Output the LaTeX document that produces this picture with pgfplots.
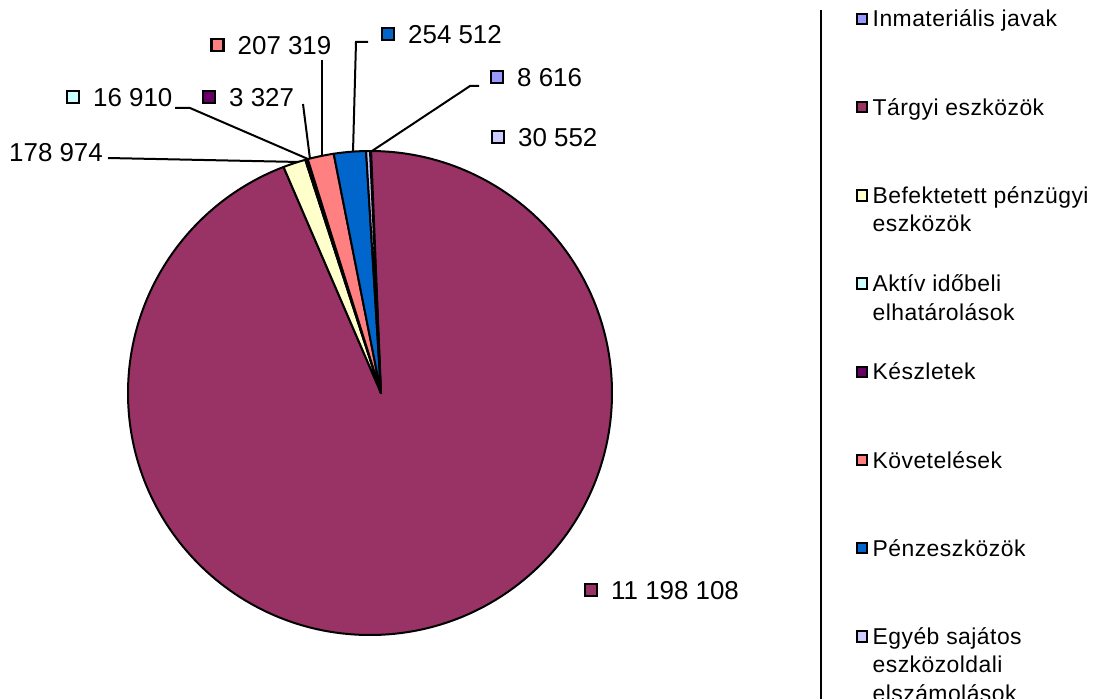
\documentclass[border=0pt]{standalone}
\usepackage{pgfplots}
\usepackage{pgfplotstable}
\pgfplotsset{compat=1.18}
\usepackage{fontspec}
\setmainfont{Liberation Sans}
\newfontfamily\legfont[LetterSpace=2]{Liberation Sans}

\definecolor{s0}{HTML}{9999FF}
\definecolor{s1}{HTML}{993366}
\definecolor{s2}{HTML}{FFFFCC}
\definecolor{s3}{HTML}{CCFFFF}
\definecolor{s4}{HTML}{660066}
\definecolor{s5}{HTML}{FF8080}
\definecolor{s6}{HTML}{0066CC}
\definecolor{s7}{HTML}{CCCCFF}

% values in thousands; lx,ly = label square position (px), gy = legend row (px)
\pgfplotstableread{
idx value     lx    ly  sq gy
0   8.616     497   77  1  19
1   11198.108 591   590 1  107.2
2   178.974   -11   152 0  195.4
3   16.910    73    97  1  283.6
4   3.327     209   97  1  371.8
5   207.319   217.5 45  1  460
6   254.512   388   34  1  548.2
7   30.552    498   137 1  636.4
}\piedata

\pgfplotstablecreatecol[create col/expr accum={\pgfmathaccuma+\thisrow{value}}{0}]{cum}\piedata
\pgfplotstablegetelem{7}{cum}\of\piedata
\edef\pietotal{\pgfplotsretval}
\pgfplotstablecreatecol[create col/expr={90-(\thisrow{cum}-\thisrow{value})/\pietotal*360}]{sa}\piedata
\pgfplotstablecreatecol[create col/expr={90-\thisrow{cum}/\pietotal*360}]{ea}\piedata

\newcommand\legline[2]{\node[anchor=base west, inner sep=0pt, text=black, font=\legfont\fontsize{23}{28}\selectfont] at (10.5bp,{-8bp-#1*28.5bp}) {#2};}
\newcommand\legentry[1]{\ifcase#1\relax
 \legline{0}{Inmateriális javak}\or
 \legline{0}{Tárgyi eszközök}\or
 \legline{0}{Befektetett pénzügyi}\legline{1}{eszközök}\or
 \legline{0}{Aktív időbeli}\legline{1}{elhatárolások}\or
 \legline{0}{Készletek}\or
 \legline{0}{Követelések}\or
 \legline{0}{Pénzeszközök}\or
 \legline{0}{Egyéb sajátos}\legline{1}{eszközoldali}\legline{2}{elszámolások}\fi}

\begin{document}
\begin{tikzpicture}
\begin{axis}[
  hide axis, scale only axis, width=1104bp, height=699bp,
  xmin=0, xmax=1104, ymin=0, ymax=699, y dir=reverse,
  clip=false,
]
% pie slices
\addplot[scatter, only marks, mark=text, text mark={},
  visualization depends on={\thisrow{idx} \as \pieCIraw},
  visualization depends on={\thisrow{sa} \as \pieSA},
  visualization depends on={\thisrow{ea} \as \pieEA},
  scatter/@pre marker code/.code={%
    \pgfmathtruncatemacro\pieCI{\pieCIraw}%
    \fill[s\pieCI, draw=black, line width=2bp, line join=round] (0,0) -- (\pieSA:242bp) arc[start angle=\pieSA, end angle=\pieEA, radius=242bp] -- cycle;
  },
  scatter/@post marker code/.code={},
] table[x expr=370, y expr=393] \piedata;

% leader lines
\addplot[black, line width=2bp] coordinates {(108,158) (300,162)};
\addplot[black, line width=2bp] coordinates {(175,108) (190,108) (308,159)};
\addplot[black, line width=2bp] coordinates {(303,104) (310,159)};
\addplot[black, line width=2bp] coordinates {(322,60) (322,157)};
\addplot[black, line width=2bp] coordinates {(368,42) (356,42) (353,152)};
\addplot[black, line width=2bp] coordinates {(479,86) (470,86) (372,151)};

% data labels
\addplot[scatter, only marks, mark=text, text mark={},
  visualization depends on={\thisrow{idx} \as \pieCIraw},
  visualization depends on={\thisrow{value} \as \pieVAL},
  visualization depends on={\thisrow{sq} \as \pieSQraw},
  scatter/@pre marker code/.code={%
    \pgfmathtruncatemacro\pieCI{\pieCIraw}%
    \pgfmathtruncatemacro\pieSQ{\pieSQraw}%
    \ifnum\pieSQ=1 \fill[s\pieCI, draw=black, line width=2.2bp] (-6bp,-6bp) rectangle (6bp,6bp);\fi
    \node[anchor=base west, inner sep=0pt, text=black, font=\fontsize{26}{30}\selectfont] at (20bp,-9.3bp)
      {\pgfmathprintnumber[fixed, fixed zerofill, precision=3, 1000 sep={\ }, dec sep={\ }, assume math mode=true]{\pieVAL}};
  },
  scatter/@post marker code/.code={},
] table[x=lx, y=ly] \piedata;

% legend
\addplot[black, line width=1.3bp] coordinates {(821,10) (821,699)};
\addplot[scatter, only marks, mark=text, text mark={},
  visualization depends on={\thisrow{idx} \as \pieCIraw},
  scatter/@pre marker code/.code={%
    \pgfmathtruncatemacro\pieCI{\pieCIraw}%
    \fill[s\pieCI, draw=black, line width=2bp] (-5.2bp,-5.2bp) rectangle (5.2bp,5.2bp);
    \legentry{\pieCI}%
  },
  scatter/@post marker code/.code={},
] table[x expr=862, y=gy] \piedata;

\coordinate (BBa) at (axis cs:0,0);
\coordinate (BBb) at (axis cs:1104,699);
\end{axis}
\pgfresetboundingbox
\useasboundingbox (BBa) rectangle (BBb);
\end{tikzpicture}
\end{document}
